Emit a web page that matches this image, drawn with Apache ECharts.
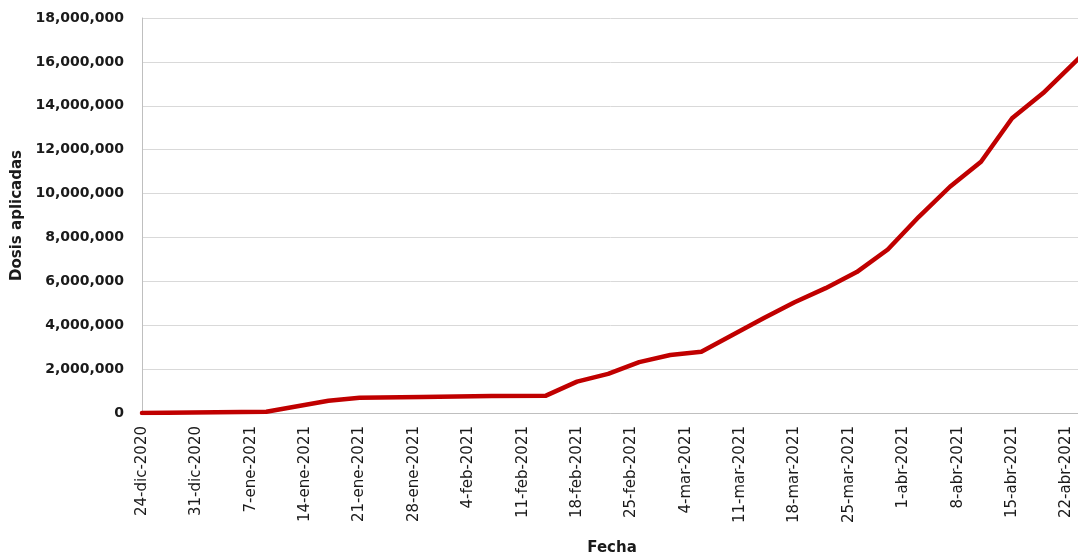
<!DOCTYPE html>
<html>
<head>
<meta charset="utf-8">
<script src="https://cdn.jsdelivr.net/npm/echarts@6/dist/echarts.min.js"></script>
<style>
html,body{margin:0;padding:0;background:#fff;}
#chart{width:1078px;height:560px;}
</style>
</head>
<body>
<div id="chart"></div>
<script>
// Weekly tick labels (every 7 days starting 24-dic-2020)
const tickLabels = ['24-dic-2020','31-dic-2020','7-ene-2021','14-ene-2021','21-ene-2021','28-ene-2021','4-feb-2021','11-feb-2021','18-feb-2021','25-feb-2021','4-mar-2021','11-mar-2021','18-mar-2021','25-mar-2021','1-abr-2021','8-abr-2021','15-abr-2021','22-abr-2021'];
// Days since 24-dic-2020 for each reading
const doseDays = [0, 16, 24, 28, 36, 45, 52, 56, 60, 64, 68, 72, 80, 84, 88, 92, 96, 100, 104, 108, 112, 116, 121];
// Cumulative applied doses
const doseValues = [0, 60000, 560000, 690000, 730000, 780000, 790000, 1430000, 1780000, 2320000, 2640000, 2790000, 4320000, 5050000, 5690000, 6420000, 7450000, 8940000, 10310000, 11450000, 13430000, 14580000, 16300000];
const yTicks = [0, 2000000, 4000000, 6000000, 8000000, 10000000, 12000000, 14000000, 16000000, 18000000];

const seriesData = doseDays.map((d, i) => [d, doseValues[i]]);

const chart = echarts.init(document.getElementById('chart'), null, {renderer: 'canvas'});
chart.setOption({
  animation: false,
  backgroundColor: '#ffffff',
  grid: {left: 142, top: 18, width: 940, height: 395, containLabel: false, outerBoundsMode: 'none'},
  xAxis: {
    type: 'value',
    min: 0,
    max: 121,
    interval: 7,
    name: 'Fecha',
    nameLocation: 'middle',
    nameGap: 128,
    nameTextStyle: {fontFamily: 'DejaVu Sans', fontWeight: 'bold', fontSize: 15, color: '#1a1a1a'},
    axisLine: {show: true, lineStyle: {color: '#bfbfbf', width: 1}},
    axisTick: {show: false},
    splitLine: {show: false},
    axisLabel: {
      rotate: 90,
      margin: 13,
      fontFamily: 'DejaVu Sans',
      fontSize: 15,
      color: '#1a1a1a',
      showMaxLabel: false,
      formatter: function (v) { const i = Math.round(v / 7); return tickLabels[i] !== undefined && v % 7 === 0 ? tickLabels[i] : ''; }
    }
  },
  yAxis: {
    type: 'value',
    min: yTicks[0],
    max: yTicks[yTicks.length - 1],
    interval: 2000000,
    name: 'Dosis aplicadas',
    nameLocation: 'middle',
    nameGap: 116,
    nameTextStyle: {fontFamily: 'DejaVu Sans', fontWeight: 'bold', fontSize: 15, color: '#1a1a1a'},
    axisLine: {show: true, lineStyle: {color: '#bfbfbf', width: 1}},
    axisTick: {show: false},
    splitLine: {show: true, lineStyle: {color: '#d9d9d9', width: 1}},
    axisLabel: {
      margin: 18,
      fontFamily: 'DejaVu Sans',
      fontWeight: 'bold',
      fontSize: 14,
      color: '#1a1a1a',
      formatter: function (v) { return v.toLocaleString('en-US'); }
    }
  },
  series: [{
    type: 'line',
    data: seriesData,
    showSymbol: false,
    symbol: 'none',
    lineStyle: {color: '#c00000', width: 4.5, join: 'round', cap: 'round'},
    clip: true
  }]
});
</script>
</body>
</html>
